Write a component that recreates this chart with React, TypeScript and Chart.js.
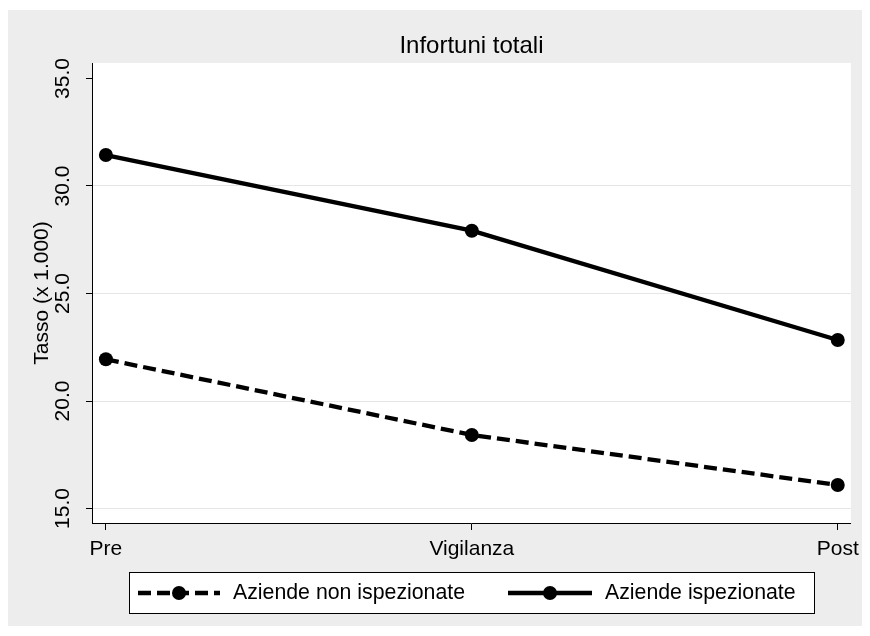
import React, { useEffect, useRef } from "react";
import { Chart, registerables } from "chart.js";

Chart.register(...registerables);

const categories = ["Pre", "Vigilanza", "Post"];
const positions = [0, 1, 2];
const nonIspezionate = [21.94, 18.42, 16.09];
const ispezionate = [31.44, 27.92, 22.84];
const yTicks = [15, 20, 25, 30, 35];
const seriesLabels = ["Aziende non ispezionate", "Aziende ispezionate"];
const titleText = "Infortuni totali";
const yTitle = "Tasso (x 1.000)";

const FONT = "'Liberation Sans', Arial, sans-serif";

const whitePlot = {
  id: "whitePlot",
  beforeDraw(chart: any) {
    const { ctx, chartArea } = chart;
    ctx.save();
    ctx.fillStyle = "#ffffff";
    ctx.fillRect(chartArea.left, chartArea.top, chartArea.right - chartArea.left, chartArea.bottom - chartArea.top);
    ctx.restore();
  },
};

const boxLegend = {
  id: "boxLegend",
  afterDraw(chart: any) {
    const { ctx } = chart;
    const box = { x: 123.5, y: 562.5, w: 685, h: 41 };
    ctx.save();
    ctx.fillStyle = "#ffffff";
    ctx.fillRect(box.x, box.y, box.w, box.h);
    ctx.strokeStyle = "#000";
    ctx.lineWidth = 1;
    ctx.strokeRect(box.x, box.y, box.w, box.h);
    const items = [
      { x0: 132, x1: 214, text: 227 },
      { x0: 502, x1: 586, text: 599 },
    ];
    const cy = box.y + box.h / 2;
    chart.data.datasets.forEach((ds: any, i: number) => {
      const it = items[i];
      ctx.beginPath();
      ctx.setLineDash(ds.borderDash || []);
      ctx.lineWidth = ds.borderWidth;
      ctx.strokeStyle = ds.borderColor;
      ctx.moveTo(it.x0, cy);
      ctx.lineTo(it.x1, cy);
      ctx.stroke();
      ctx.setLineDash([]);
      ctx.beginPath();
      ctx.fillStyle = ds.pointBackgroundColor;
      ctx.arc((it.x0 + it.x1) / 2, cy, ds.pointRadius, 0, Math.PI * 2);
      ctx.fill();
      ctx.fillStyle = "#000";
      ctx.font = `21.3px ${FONT}`;
      ctx.textBaseline = "middle";
      ctx.textAlign = "left";
      ctx.fillText(ds.label, it.text, cy);
    });
    ctx.restore();
  },
};

export default function App() {
  const ref = useRef<HTMLCanvasElement>(null);
  useEffect(() => {
    if (!ref.current) return;
    const chart = new Chart(ref.current, {
      type: "line",
      data: {
        datasets: [
          {
            label: seriesLabels[0],
            data: positions.map((x, i) => ({ x, y: nonIspezionate[i] })),
            borderColor: "#000",
            backgroundColor: "#000",
            borderWidth: 4.3,
            borderDash: [13, 6],
            pointRadius: 7,
            pointBackgroundColor: "#000",
            pointBorderWidth: 0,
            tension: 0,
          },
          {
            label: seriesLabels[1],
            data: positions.map((x, i) => ({ x, y: ispezionate[i] })),
            borderColor: "#000",
            backgroundColor: "#000",
            borderWidth: 4.3,
            pointRadius: 7,
            pointBackgroundColor: "#000",
            pointBorderWidth: 0,
            tension: 0,
          },
        ],
      },
      options: {
        animation: false,
        responsive: false,
        layout: { padding: { left: 0, right: 14, top: 0, bottom: 60 } },
        plugins: {
          legend: { display: false },
          tooltip: { enabled: false },
          title: {
            display: true,
            text: titleText,
            fullSize: false,
            color: "#000",
            font: { family: FONT, size: 24, weight: "normal", lineHeight: 1.2 },
            padding: { top: 22, bottom: 2.2 },
          },
        },
        scales: {
          x: {
            type: "linear",
            min: -0.038,
            max: 2.036,
            afterBuildTicks: (scale: any) => {
              scale.ticks = positions.map((v) => ({ value: v }));
            },
            afterFit: (scale: any) => {
              scale.height = 45;
            },
            ticks: {
              callback: (v: any) => categories[v as number] ?? "",
              color: "#000",
              font: { family: FONT, size: 21 },
              padding: 7,
              maxRotation: 0,
              autoSkip: false,
            },
            grid: {
              drawOnChartArea: false,
              tickLength: 7,
              tickColor: "#000",
              color: "#000",
            },
            border: { display: true, color: "#000", width: 1 },
          },
          y: {
            type: "linear",
            min: 14.326,
            max: 35.72,
            afterBuildTicks: (scale: any) => {
              scale.ticks = yTicks.map((v) => ({ value: v }));
            },
            afterFit: (scale: any) => {
              scale.width = 86;
            },
            ticks: {
              callback: (v: any) => Number(v).toFixed(1),
              color: "#000",
              font: { family: FONT, size: 21 },
              padding: 2,
              minRotation: 90,
              maxRotation: 90,
              crossAlign: "center",
              autoSkip: false,
            },
            grid: {
              drawOnChartArea: true,
              tickLength: 6,
              tickColor: "#000",
              color: (ctx: any) => (ctx.tick && ctx.tick.value === 35 ? "rgba(0,0,0,0)" : "#e6e6e6"),
            },
            border: { display: true, color: "#000", width: 1 },
            title: {
              display: true,
              text: yTitle,
              color: "#000",
              font: { family: FONT, size: 21, lineHeight: 1.2 },
              padding: { top: 23.5, bottom: 0 },
            },
          },
        },
      },
      plugins: [whitePlot, boxLegend],
    } as any);
    return () => chart.destroy();
  }, []);
  return (
    <div style={{ position: "relative", left: -2, top: 2 }}>
      <canvas
        ref={ref}
        width={860}
        height={618}
        style={{ display: "block", width: 860, height: 618, background: "#ededed" }}
      />
    </div>
  );
}
